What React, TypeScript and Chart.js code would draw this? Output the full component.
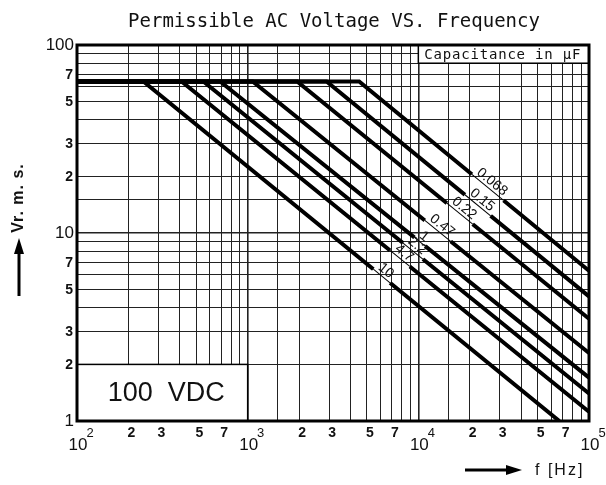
import React, { useEffect, useRef } from 'react';
import { Chart, registerables } from 'chart.js';

Chart.register(...registerables);

// ---- data ----
const capacitanceLabels = ['0.068', '0.15', '0.22', '0.47', '1', '2.2', '4.7', '10'];
const startFreq = 100;
const flatVoltage = 64;
const breakFreq = [4500, 2900, 1950, 1070, 690, 550, 410, 245];
const endFreq = [100000, 100000, 100000, 100000, 100000, 100000, 100000, 67000];
const endVoltage = [6.3, 4.6, 3.5, 2.3, 1.7, 1.4, 1.12, 1];
const labelFreq = [25500, 22300, 17500, 13000, 10200, 9300, 7800, 6100];

const xMajorTicks = [100, 1000, 10000, 100000];
const xMajorExponents = ['2', '3', '4', '5'];
const xMinorTicks = [200, 300, 500, 700, 2000, 3000, 5000, 7000, 20000, 30000, 50000, 70000];
const xMinorLabels = ['2', '3', '5', '7', '2', '3', '5', '7', '2', '3', '5', '7'];
const yMajorTicks = [100, 10, 1];
const yMajorLabels = ['100', '10', '1'];
const yMinorTicks = [70, 50, 30, 20, 7, 5, 3, 2];
const yMinorLabels = ['7', '5', '3', '2', '7', '5', '3', '2'];

const W = 606;
const H = 485;
const LABEL_FONT = '14px "Liberation Sans", Arial, sans-serif';

function gapGeom(chart: any, i: number) {
  const meta = chart.getDatasetMeta(i);
  const p1 = meta.data[1];
  const p2 = meta.data[2];
  const x = chart.scales.x.getPixelForValue(labelFreq[i]);
  const t = (x - p1.x) / (p2.x - p1.x);
  const y = p1.y + t * (p2.y - p1.y);
  const ang = Math.atan2(p2.y - p1.y, p2.x - p1.x);
  const ctx = chart.ctx;
  ctx.save();
  ctx.font = LABEL_FONT;
  const w = ctx.measureText(capacitanceLabels[i]).width;
  ctx.restore();
  return { x, y, ang, half: w / 2 + 3 };
}

const chartPlugin = {
  id: 'refDecor',
  beforeDatasetsDraw(chart: any) {
    const { ctx } = chart;
    const xs = chart.scales.x;
    const ys = chart.scales.y;
    ctx.save();
    // 100 VDC box
    const bx1 = xs.getPixelForValue(100);
    const bx2 = xs.getPixelForValue(1000);
    const by1 = ys.getPixelForValue(2);
    const by2 = ys.getPixelForValue(1);
    ctx.fillStyle = '#fff';
    ctx.fillRect(bx1, by1, bx2 - bx1, by2 - by1);
    ctx.strokeStyle = '#000';
    ctx.lineWidth = 1.5;
    ctx.strokeRect(bx1, by1, bx2 - bx1, by2 - by1);
    ctx.fillStyle = '#111';
    ctx.font = '27px "Liberation Sans", Arial, sans-serif';
    ctx.textAlign = 'center';
    ctx.textBaseline = 'middle';
    ctx.fillText('100  VDC', (bx1 + bx2) / 2 + 4, (by1 + by2) / 2 + 1);
    // legend box
    const lx1 = xs.getPixelForValue(10000);
    const lx2 = xs.getPixelForValue(100000);
    const ly1 = ys.getPixelForValue(100);
    const ly2 = ys.getPixelForValue(80);
    ctx.fillStyle = '#fff';
    ctx.fillRect(lx1, ly1, lx2 - lx1, ly2 - ly1);
    ctx.strokeStyle = '#000';
    ctx.lineWidth = 1.5;
    ctx.strokeRect(lx1, ly1, lx2 - lx1, ly2 - ly1);
    ctx.fillStyle = '#111';
    ctx.font = '14px "DejaVu Sans Mono", monospace';
    (ctx as any).letterSpacing = '0.8px';
    ctx.textAlign = 'left';
    ctx.textBaseline = 'middle';
    ctx.fillText('Capacitance in \u03bcF', lx1 + 6, (ly1 + ly2) / 2 + 1);
    ctx.restore();
  },
  beforeDatasetDraw(chart: any, args: any) {
    const { ctx } = chart;
    const g = gapGeom(chart, args.index);
    const c = Math.cos(g.ang);
    const s = Math.sin(g.ang);
    const hw = 6;
    ctx.save();
    ctx.beginPath();
    ctx.rect(0, 0, W, H);
    const pts = [
      [g.x - g.half * c - hw * -s, g.y - g.half * s - hw * c],
      [g.x + g.half * c - hw * -s, g.y + g.half * s - hw * c],
      [g.x + g.half * c + hw * -s, g.y + g.half * s + hw * c],
      [g.x - g.half * c + hw * -s, g.y - g.half * s + hw * c],
    ];
    ctx.moveTo(pts[0][0], pts[0][1]);
    for (let k = 1; k < 4; k++) ctx.lineTo(pts[k][0], pts[k][1]);
    ctx.closePath();
    ctx.clip('evenodd');
  },
  afterDatasetDraw(chart: any) {
    chart.ctx.restore();
  },
  afterDatasetsDraw(chart: any) {
    const { ctx, chartArea } = chart;
    const xs = chart.scales.x;
    const ys = chart.scales.y;
    ctx.save();
    // gap thin lines + labels
    capacitanceLabels.forEach((label, i) => {
      const g = gapGeom(chart, i);
      ctx.save();
      ctx.translate(g.x, g.y);
      ctx.rotate(g.ang);
      ctx.strokeStyle = '#000';
      ctx.lineWidth = 1;
      ctx.beginPath();
      ctx.moveTo(-g.half, 0);
      ctx.lineTo(g.half, 0);
      ctx.stroke();
      ctx.fillStyle = '#111';
      ctx.font = LABEL_FONT;
      ctx.textAlign = 'center';
      ctx.textBaseline = 'alphabetic';
      ctx.fillText(label, 0, -3);
      ctx.restore();
    });
    // frame
    ctx.strokeStyle = '#000';
    ctx.lineWidth = 3;
    ctx.strokeRect(chartArea.left, chartArea.top, chartArea.right - chartArea.left, chartArea.bottom - chartArea.top);

    // y tick labels
    ctx.fillStyle = '#111';
    ctx.textAlign = 'right';
    ctx.textBaseline = 'middle';
    ctx.font = '17px "Liberation Sans", Arial, sans-serif';
    yMajorTicks.forEach((v, i) => {
      ctx.fillText(yMajorLabels[i], chartArea.left - 3, ys.getPixelForValue(v));
    });
    ctx.font = 'bold 14px "Liberation Sans", Arial, sans-serif';
    yMinorTicks.forEach((v, i) => {
      ctx.fillText(yMinorLabels[i], chartArea.left - 4, ys.getPixelForValue(v) + 1);
    });
    // x tick labels
    ctx.textAlign = 'center';
    ctx.textBaseline = 'middle';
    ctx.font = 'bold 14px "Liberation Sans", Arial, sans-serif';
    xMinorTicks.forEach((v, i) => {
      ctx.fillText(xMinorLabels[i], xs.getPixelForValue(v) + 3, chartArea.bottom + 12);
    });
    xMajorTicks.forEach((v, i) => {
      const px = xs.getPixelForValue(v);
      ctx.font = '17px "Liberation Sans", Arial, sans-serif';
      ctx.textAlign = 'center';
      ctx.fillText('10', px + 1, chartArea.bottom + 24);
      const w = ctx.measureText('10').width;
      ctx.font = '13px "Liberation Sans", Arial, sans-serif';
      ctx.textAlign = 'left';
      ctx.fillText(xMajorExponents[i], px + 1 + w / 2 - 1, chartArea.bottom + 12);
    });

    // y axis title with arrow
    ctx.save();
    ctx.translate(19, 198);
    ctx.rotate(-Math.PI / 2);
    ctx.font = 'bold 16px "Liberation Sans", Arial, sans-serif';
    (ctx as any).letterSpacing = '1px';
    ctx.textAlign = 'center';
    ctx.textBaseline = 'middle';
    ctx.fillText('Vr. m. s.', 0, 0);
    (ctx as any).letterSpacing = '0px';
    ctx.restore();
    ctx.strokeStyle = '#000';
    ctx.fillStyle = '#000';
    ctx.lineWidth = 3;
    ctx.beginPath();
    ctx.moveTo(19, 296);
    ctx.lineTo(19, 252);
    ctx.stroke();
    ctx.beginPath();
    ctx.moveTo(19, 238);
    ctx.lineTo(14, 254);
    ctx.lineTo(24, 254);
    ctx.closePath();
    ctx.fill();

    // x axis title with arrow
    ctx.beginPath();
    ctx.moveTo(465, 470);
    ctx.lineTo(508, 470);
    ctx.stroke();
    ctx.beginPath();
    ctx.moveTo(522, 470);
    ctx.lineTo(506, 465);
    ctx.lineTo(506, 475);
    ctx.closePath();
    ctx.fill();
    ctx.fillStyle = '#111';
    ctx.font = '16px "Liberation Sans", Arial, sans-serif';
    (ctx as any).letterSpacing = '2px';
    ctx.textAlign = 'left';
    ctx.textBaseline = 'middle';
    ctx.fillText('f [Hz]', 535, 471);
    (ctx as any).letterSpacing = '0px';

    // title
    ctx.font = '19px "DejaVu Sans Mono", monospace';
    ctx.textAlign = 'center';
    ctx.textBaseline = 'middle';
    ctx.fillText('Permissible AC Voltage VS. Frequency', 334, 22);
    ctx.restore();
  },
};

export default function App() {
  const canvasRef = useRef<HTMLCanvasElement | null>(null);

  useEffect(() => {
    if (!canvasRef.current) return;
    const datasets = capacitanceLabels.map((label, i) => ({
      label,
      data: [
        { x: startFreq, y: flatVoltage },
        { x: breakFreq[i], y: flatVoltage },
        { x: endFreq[i], y: endVoltage[i] },
      ],
      showLine: true,
      borderColor: '#000',
      backgroundColor: '#000',
      borderWidth: 4,
      pointRadius: 0,
      pointHoverRadius: 0,
      borderJoinStyle: 'miter' as const,
      tension: 0,
    }));
    const majorVals = [1000, 10000, 10];
    const chart = new Chart(canvasRef.current, {
      type: 'scatter',
      data: { datasets },
      plugins: [chartPlugin],
      options: {
        responsive: false,
        animation: false,
        devicePixelRatio: 1,
        events: [],
        layout: { padding: { left: 77, right: 17, top: 45, bottom: 64 } },
        plugins: {
          legend: { display: false },
          tooltip: { enabled: false },
          title: { display: false },
        },
        scales: {
          x: {
            type: 'logarithmic',
            min: 100,
            max: 100000,
            ticks: { display: false },
            grid: {
              color: '#222',
              lineWidth: (c: any) => (majorVals.includes(c.tick?.value) ? 1.6 : 1),
              drawTicks: false,
            },
            border: { display: false },
          },
          y: {
            type: 'logarithmic',
            min: 1,
            max: 100,
            ticks: { display: false },
            grid: {
              color: '#222',
              lineWidth: (c: any) => (majorVals.includes(c.tick?.value) ? 1.6 : 1),
              drawTicks: false,
            },
            border: { display: false },
          },
        },
      },
    });
    return () => chart.destroy();
  }, []);

  return (
    <div style={{ position: 'absolute', left: 0, top: 0, width: W, height: H, background: '#fff' }}>
      <canvas ref={canvasRef} width={W} height={H} style={{ display: 'block', width: W, height: H }} />
    </div>
  );
}
